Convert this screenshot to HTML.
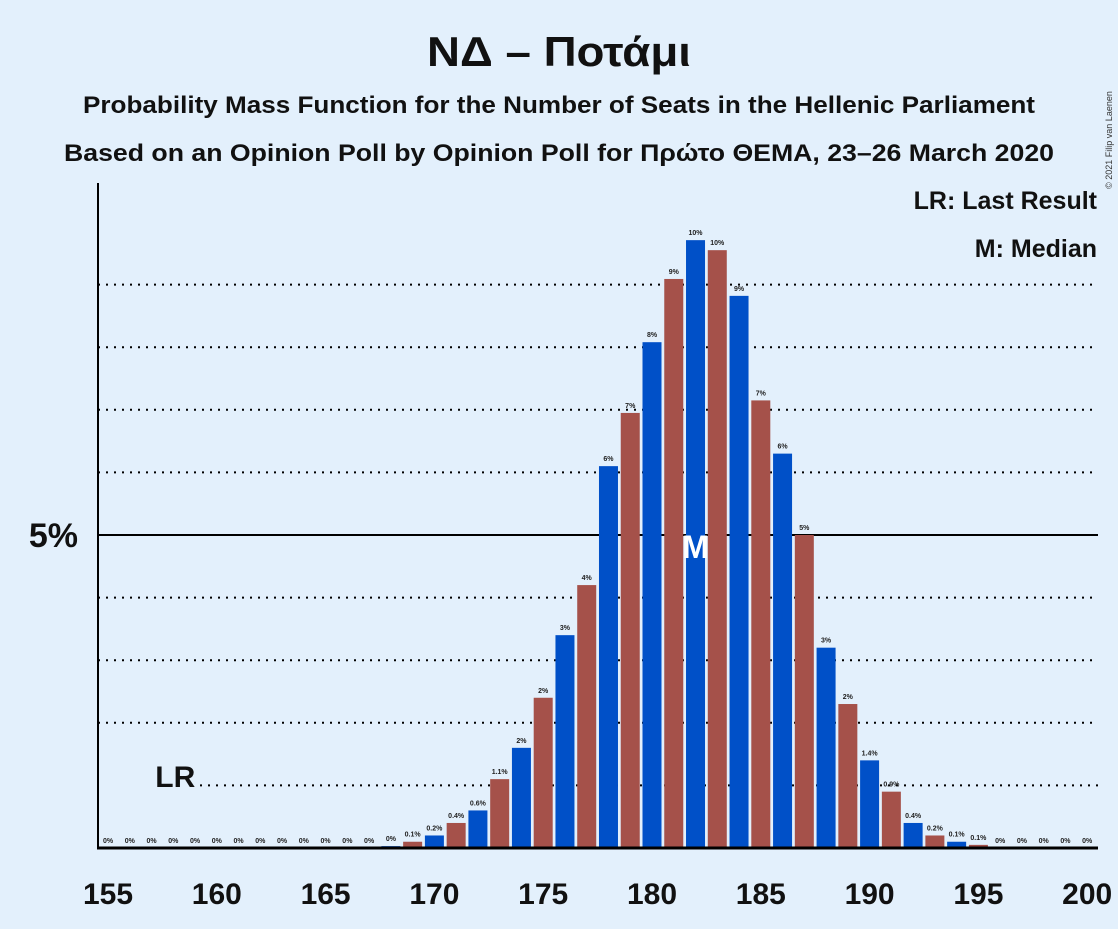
<!DOCTYPE html>
<html><head><meta charset="utf-8"><style>
body{margin:0;background:#e3f0fc;}
svg text{font-family:"Liberation Sans",sans-serif;}
</style></head><body>
<svg width="1118" height="924" viewBox="0 0 1118 924">
<rect width="1118" height="924" fill="#e3f0fc"/>
<text x="559" y="66" text-anchor="middle" font-size="42" font-weight="bold" fill="#111" textLength="264" lengthAdjust="spacingAndGlyphs">ΝΔ – Ποτάμι</text>
<text x="559" y="113" text-anchor="middle" font-size="24" font-weight="bold" fill="#111" textLength="952" lengthAdjust="spacingAndGlyphs">Probability Mass Function for the Number of Seats in the Hellenic Parliament</text>
<text x="559" y="161" text-anchor="middle" font-size="24" font-weight="bold" fill="#111" textLength="990" lengthAdjust="spacingAndGlyphs">Based on an Opinion Poll by Opinion Poll for Πρώτο ΘΕΜΑ, 23–26 March 2020</text>
<text x="1112" y="140" font-size="9" fill="#333" transform="rotate(-90 1112 140)" text-anchor="middle">© 2021 Filip van Laenen</text>
<g id="grid"></g>
<g id="bars"></g>
<g id="labels"></g>
<line x1="98" y1="183" x2="98" y2="848" stroke="#000" stroke-width="2"/>
<line x1="97" y1="848" x2="1098" y2="848" stroke="#000" stroke-width="3"/>
<text x="78" y="547" text-anchor="end" font-size="34" font-weight="bold" fill="#111">5%</text>
<text x="1097" y="209" text-anchor="end" font-size="25" font-weight="bold" fill="#111">LR: Last Result</text>
<text x="1097" y="257" text-anchor="end" font-size="25" font-weight="bold" fill="#111">M: Median</text>
<g id="xticks"></g>
</svg>
<script>
const seats=[155,156,157,158,159,160,161,162,163,164,165,166,167,168,169,170,171,172,173,174,175,176,177,178,179,180,181,182,183,184,185,186,187,188,189,190,191,192,193,194,195,196,197,198,199,200];
const probs=[0,0,0,0,0,0,0,0,0,0,0,0,0,0.03,0.1,0.2,0.4,0.6,1.1,1.6,2.4,3.4,4.2,6.1,6.95,8.08,9.09,9.71,9.55,8.82,7.15,6.3,5.0,3.2,2.3,1.4,0.9,0.4,0.2,0.1,0.05,0,0,0,0,0];
const labels=["0%","0%","0%","0%","0%","0%","0%","0%","0%","0%","0%","0%","0%","0%","0.1%","0.2%","0.4%","0.6%","1.1%","2%","2%","3%","4%","6%","7%","8%","9%","10%","10%","9%","7%","6%","5%","3%","2%","1.4%","0.9%","0.4%","0.2%","0.1%","0.1%","0%","0%","0%","0%","0%"];
const xTicks=[155,160,165,170,175,180,185,190,195,200];
const gridPcts=[1,2,3,4,6,7,8,9];
const lastResult=158, median=182;
const NS="http://www.w3.org/2000/svg";
const x=s=>108+(s-155)*21.76;
const y=p=>848-p*62.6;
function mk(t,a,parent){const e=document.createElementNS(NS,t);for(const k in a)e.setAttribute(k,a[k]);document.getElementById(parent).appendChild(e);return e;}
gridPcts.forEach(p=>{const l=mk('line',{x1:(p===1?200:98),y1:y(p),x2:1098,y2:y(p),stroke:'#000','stroke-width':2,'stroke-dasharray':'2,6'},'grid');

});
const l5=mk('line',{x1:98,y1:y(5),x2:1098,y2:y(5),stroke:'#000','stroke-width':2},'grid');


seats.forEach((s,i)=>{const p=probs[i];
if(p>0){const r=mk('rect',{x:x(s)-9.5,y:y(p),width:19,height:848-y(p),fill:(s%2===0?'#0050c8':'#a5514a')},'bars');

}
const t=mk('text',{x:x(s),y:y(p)-5,'text-anchor':'middle','font-size':7,'font-weight':'bold',fill:'#222'},'labels');
t.textContent=labels[i];

});
const m=mk('text',{x:x(median),y:558,'text-anchor':'middle','font-size':32,'font-weight':'bold',fill:'#fff'},'labels');
m.textContent='M';


const lr=mk('text',{x:x(lastResult)+2,y:787,'text-anchor':'middle','font-size':30,'font-weight':'bold',fill:'#111'},'labels');
lr.textContent='LR';


xTicks.forEach(s=>{const t=mk('text',{x:x(s),y:904,'text-anchor':'middle','font-size':30,'font-weight':'bold',fill:'#111'},'xticks');
t.textContent=s;

});
</script>
</body></html>
